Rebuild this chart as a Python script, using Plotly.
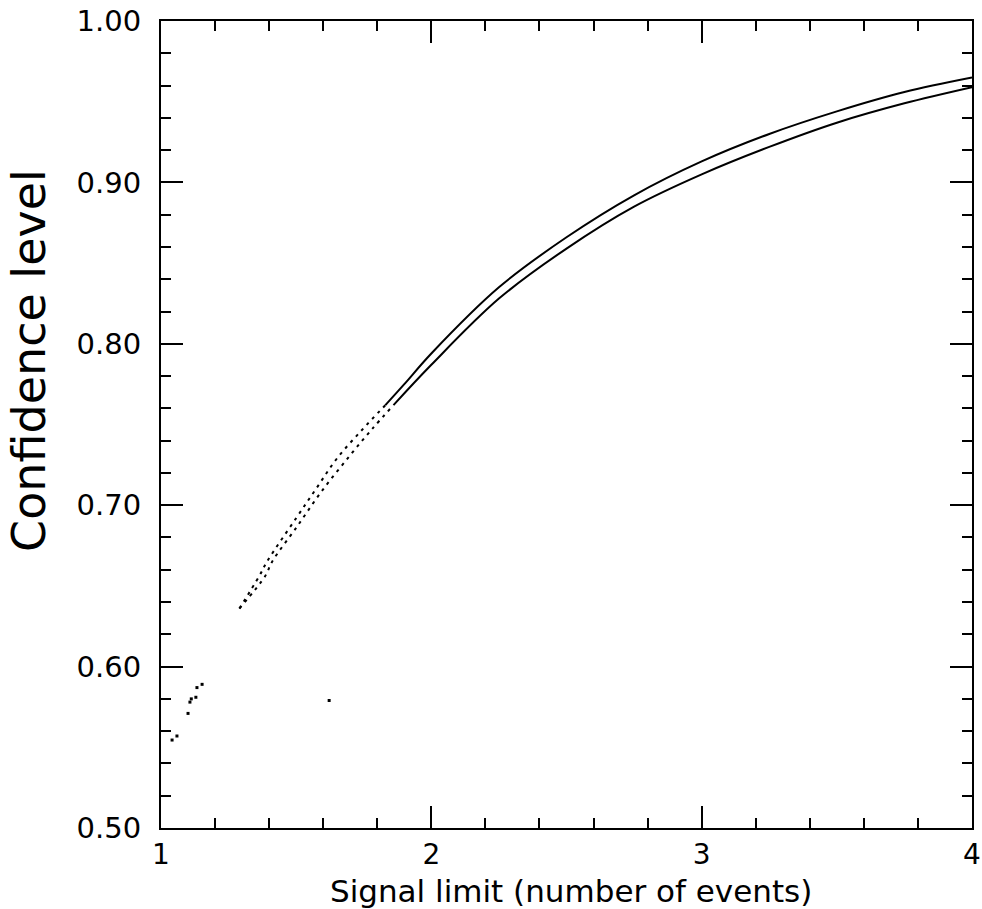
import plotly.graph_objects as go

# Confidence level versus signal limit: two computed curves.
# The low-x part of each curve is rendered broken (dotted), the rest solid.
upper_x_dot = [1.29, 1.363, 1.392, 1.50, 1.577, 1.651, 1.74, 1.83]
upper_y_dot = [0.636, 0.656, 0.665, 0.692, 0.711, 0.729, 0.746, 0.762]
upper_x = [1.83, 1.90, 2.00, 2.25, 2.50, 2.75, 3.00, 3.25, 3.50, 3.75, 4.00]
upper_y = [0.762, 0.775, 0.794, 0.835, 0.866, 0.892, 0.913, 0.930, 0.944, 0.956, 0.965]

lower_x_dot = [1.29, 1.385, 1.411, 1.50, 1.596, 1.70, 1.78, 1.86]
lower_y_dot = [0.636, 0.656, 0.665, 0.686, 0.709, 0.731, 0.747, 0.762]
lower_x = [1.86, 2.00, 2.25, 2.50, 2.75, 3.00, 3.25, 3.50, 3.75, 4.00]
lower_y = [0.762, 0.787, 0.828, 0.859, 0.885, 0.905, 0.922, 0.937, 0.949, 0.959]

# isolated plotted points at low signal limit
stray_x = [1.041, 1.059, 1.100, 1.107, 1.112, 1.129, 1.133, 1.152, 1.622]
stray_y = [0.5545, 0.557, 0.571, 0.578, 0.580, 0.581, 0.587, 0.589, 0.579]

x_ticks = [1, 2, 3, 4]
y_ticks = [0.50, 0.60, 0.70, 0.80, 0.90, 1.00]

FONT = "DejaVu Sans"
INK = "black"

fig = go.Figure()

for xs, ys in [(upper_x_dot, upper_y_dot), (lower_x_dot, lower_y_dot)]:
    fig.add_trace(go.Scatter(
        x=xs, y=ys, mode="lines", line_shape="spline",
        line=dict(color=INK, width=2, dash="3px,5px"),
        showlegend=False, hoverinfo="skip"))

for xs, ys in [(upper_x, upper_y), (lower_x, lower_y)]:
    fig.add_trace(go.Scatter(
        x=xs, y=ys, mode="lines", line_shape="spline",
        line=dict(color=INK, width=2),
        showlegend=False, hoverinfo="skip"))

fig.add_trace(go.Scatter(
    x=stray_x, y=stray_y, mode="markers",
    marker=dict(color=INK, size=3, symbol="square"),
    showlegend=False, hoverinfo="skip"))

axis_common = dict(
    showline=True, linecolor=INK, linewidth=2, mirror="ticks",
    ticks="inside", tickcolor=INK, tickwidth=2, ticklen=22,
    showgrid=False, zeroline=False, automargin=False,
)

fig.update_xaxes(
    range=[1, 4], tickvals=x_ticks, ticktext=[str(v) for v in x_ticks],
    minor=dict(dtick=0.2, tick0=1, ticks="inside", ticklen=10, tickwidth=1.5, tickcolor=INK, showgrid=False),
    ticklabelstandoff=0,
    tickfont=dict(family=FONT, size=28, color=INK),
    **axis_common)
fig.update_yaxes(
    range=[0.5, 1.0], tickvals=y_ticks, ticktext=[f"{v:.2f}" for v in y_ticks],
    minor=dict(dtick=0.02, tick0=0.5, ticks="inside", ticklen=10, tickwidth=1.5, tickcolor=INK, showgrid=False),
    ticklabelstandoff=12,
    tickfont=dict(family=FONT, size=29, color=INK),
    **axis_common)

fig.add_annotation(
    text="Signal limit (number of events)", xref="paper", yref="paper",
    x=0.5055, y=-0.078, xanchor="center", yanchor="middle", showarrow=False,
    font=dict(family=FONT, size=31, color=INK))
fig.add_annotation(
    text="Confidence level", xref="paper", yref="paper",
    x=-0.1628, y=0.58, xanchor="center", yanchor="middle", showarrow=False,
    textangle=-90, font=dict(family=FONT, size=46, color=INK))

fig.update_layout(
    width=982, height=909,
    margin=dict(l=161, r=10, t=21, b=81),
    plot_bgcolor="white", paper_bgcolor="white",
)

fig.write_html("out.html")
